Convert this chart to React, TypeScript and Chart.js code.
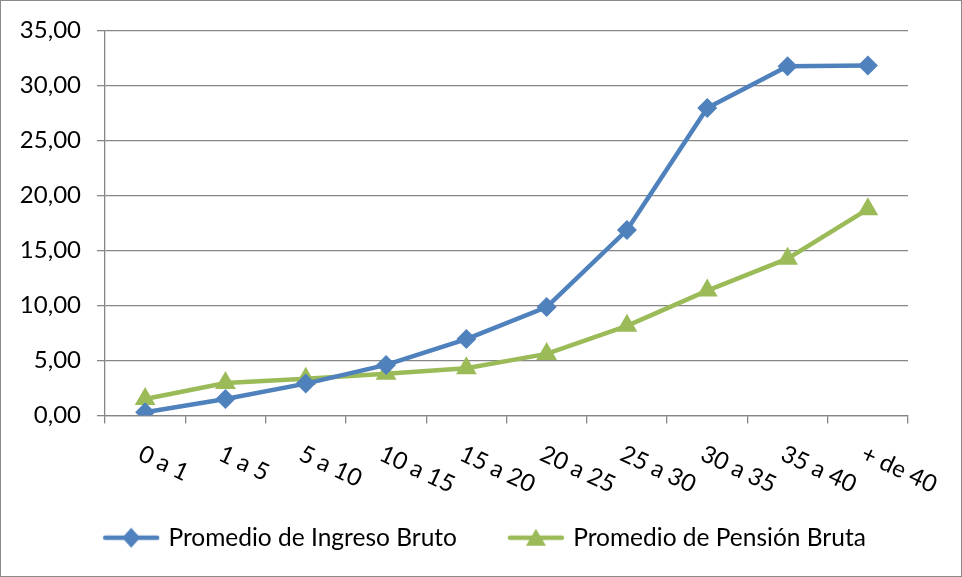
import React, { useEffect, useRef } from "react";
import { Chart, registerables } from "chart.js";

Chart.register(...registerables);

const categories = ["0 a 1", "1 a 5", "5 a 10", "10 a 15", "15 a 20", "20 a 25", "25 a 30", "30 a 35", "35 a 40", "+ de 40"];
const ingresoBruto = [0.3, 1.5, 2.9, 4.6, 6.95, 9.85, 16.85, 27.95, 31.75, 31.8];
const pensionBruta = [1.5, 2.95, 3.35, 3.8, 4.3, 5.6, 8.15, 11.35, 14.25, 18.75];
const seriesNames = ["Promedio de Ingreso Bruto", "Promedio de Pensión Bruta"];
const yTicks = [0, 5, 10, 15, 20, 25, 30, 35];

const BLUE = "#4F81BD";
const GREEN = "#9BBB59";
const GRID = "#868686";
const FONT = "Lato, 'Open Sans', sans-serif";

function legendImage(color: string, style: "rectRot" | "triangle") {
  const c = document.createElement("canvas");
  c.width = 58;
  c.height = 24;
  const ctx = c.getContext("2d")!;
  ctx.strokeStyle = color;
  ctx.lineWidth = 4.5;
  ctx.lineCap = "round";
  ctx.beginPath();
  ctx.moveTo(3, 12);
  ctx.lineTo(55, 12);
  ctx.stroke();
  ctx.fillStyle = color;
  ctx.beginPath();
  if (style === "rectRot") {
    ctx.moveTo(29, 2);
    ctx.lineTo(38, 12);
    ctx.lineTo(29, 22);
    ctx.lineTo(20, 12);
  } else {
    ctx.moveTo(29, 3);
    ctx.lineTo(39, 20);
    ctx.lineTo(19, 20);
  }
  ctx.closePath();
  ctx.fill();
  return c;
}

export default function App() {
  const ref = useRef<HTMLCanvasElement>(null);
  useEffect(() => {
    document.body.style.margin = "0";
    const canvas = ref.current!;
    const imgs = [legendImage(BLUE, "rectRot"), legendImage(GREEN, "triangle")];

    const bgPlugin = {
      id: "bg",
      afterLayout(chart: any) {
        if (chart.legend) {
          chart.legend.left += 32;
          chart.legend.right += 32;
        }
      },
      beforeDraw(chart: any) {
        const { ctx, width, height } = chart;
        ctx.save();
        ctx.fillStyle = "#fff";
        ctx.fillRect(0, 0, width, height);
        ctx.strokeStyle = "#898989";
        ctx.lineWidth = 1;
        ctx.strokeRect(0.5, 0.5, width - 1, height - 1);
        ctx.restore();
      },
    };

    const xLabelPlugin = {
      id: "xlabels",
      afterDraw(chart: any) {
        const { ctx } = chart;
        const xs = chart.scales.x;
        const yBase = chart.chartArea.bottom;
        ctx.save();
        ctx.fillStyle = "#000";
        ctx.font = `24px ${FONT}`;
        ctx.textAlign = "left";
        ctx.textBaseline = "top";
        categories.forEach((lab, i) => {
          const x = xs.getPixelForValue(i);
          ctx.save();
          ctx.translate(x, yBase + 26);
          ctx.rotate((25 * Math.PI) / 180);
          ctx.fillText(lab, 0, 0);
          ctx.restore();
        });
        ctx.restore();
      },
    };

    const chart = new Chart(canvas, {
      type: "line",
      data: {
        labels: categories,
        datasets: [
          {
            label: seriesNames[0],
            data: ingresoBruto,
            borderColor: BLUE,
            backgroundColor: BLUE,
            borderWidth: 4.5,
            pointStyle: "rectRot",
            pointRadius: 10,
            pointBorderWidth: 0,
            tension: 0,
          },
          {
            label: seriesNames[1],
            data: pensionBruta,
            borderColor: GREEN,
            backgroundColor: GREEN,
            borderWidth: 4.5,
            pointStyle: "triangle",
            pointRadius: 12,
            pointBorderWidth: 0,
            tension: 0,
          },
        ],
      },
      options: {
        responsive: false,
        animation: false,
        layout: { padding: { top: 30, right: 54, bottom: 17, left: 0 } },
        plugins: {
          tooltip: { enabled: false },
          legend: {
            position: "bottom",
            labels: {
              usePointStyle: true,
              pointStyleWidth: 50,
              padding: 54,
              color: "#000",
              font: { family: FONT, size: 24.5 },
              generateLabels: () =>
                seriesNames.map((name, i) => ({
                  text: name,
                  pointStyle: imgs[i] as any,
                  fillStyle: "transparent",
                  strokeStyle: "transparent",
                  lineWidth: 0,
                  datasetIndex: i,
                  hidden: false,
                })),
            },
          },
        },
        scales: {
          x: {
            offset: true,
            grid: {
              display: true,
              drawOnChartArea: false,
              offset: true,
              color: GRID,
              tickLength: 8,
              lineWidth: 1.3,
            },
            border: { display: true, color: GRID, width: 1.3 },
            ticks: { display: false },
            afterFit: (s: any) => {
              s.height = 56;
            },
          },
          y: {
            min: 0,
            max: 35,
            afterBuildTicks: (s: any) => {
              s.ticks = yTicks.map((v) => ({ value: v }));
            },
            grid: { color: GRID, tickLength: 8, lineWidth: 1.3 },
            border: { display: true, color: GRID, width: 1.3 },
            ticks: {
              color: "#000",
              padding: 16,
              font: { family: FONT, size: 24 },
              callback: (v: any) => Number(v).toFixed(2).replace(".", ","),
            },
            afterFit: (s: any) => {
              s.width = 105;
            },
          },
        },
      },
      plugins: [bgPlugin, xLabelPlugin],
    });
    return () => chart.destroy();
  }, []);
  return <canvas ref={ref} width={962} height={577} style={{ display: "block" }} />;
}
